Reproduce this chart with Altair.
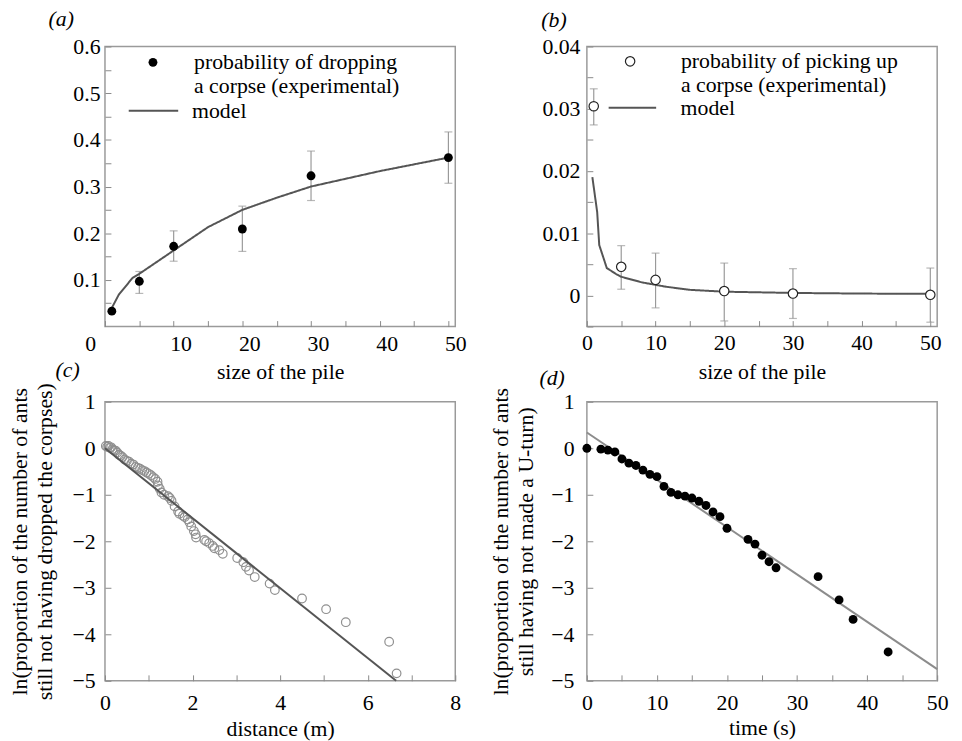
import altair as alt
import pandas as pd

FONT = "Liberation Serif"
FS = 22
ERR = "#9a9a9a"

# ---------------- (a) probability of dropping ----------------
pile_a = [1, 5, 10, 20, 30, 50]
drop_prob = [0.033, 0.097, 0.172, 0.209, 0.323, 0.362]
err_pile_a = [5, 10, 20, 30, 50]
drop_lo = [0.071, 0.140, 0.161, 0.270, 0.307]
drop_hi = [0.118, 0.205, 0.258, 0.376, 0.417]
model_x_a = [1, 2, 4, 5, 10, 15, 20, 25, 30, 40, 50]
model_y_a = [0.040, 0.068, 0.104, 0.113, 0.163, 0.213, 0.250, 0.276, 0.300, 0.333, 0.362]
label_drop = "probability of dropping a corpse (experimental)"

# ---------------- (b) probability of picking up ----------------
pile_b = [1, 5, 10, 20, 30, 50]
pick_prob = [0.0304, 0.0046, 0.0025, 0.0007, 0.0003, 0.0001]
pick_lo = [0.0274, 0.0010, -0.0020, -0.0041, -0.0037, -0.0043]
pick_hi = [0.0332, 0.0080, 0.0068, 0.0052, 0.0043, 0.0044]
model_x_b = [0.8, 1.5, 1.8, 2.9, 4.3, 5, 8, 11.5, 15, 20, 30, 40, 50]
model_y_b = [0.0190, 0.0134, 0.0081, 0.0044, 0.0034, 0.0030, 0.0021, 0.0014,
             0.0009, 0.0006, 0.0004, 0.0003, 0.00025]
label_pick = "probability of picking up a corpse (experimental)"

# ---------------- (c) distance ----------------
dist_c = [0.02, 0.05, 0.08, 0.11, 0.14, 0.17, 0.2, 0.24, 0.28, 0.32, 0.36, 0.4,
          0.45, 0.5, 0.55, 0.6, 0.65, 0.7, 0.75, 0.8, 0.85, 0.9, 0.95, 1.0, 1.05,
          1.1, 1.15, 1.2, 1.21, 1.25, 1.29, 1.35, 1.44, 1.48, 1.52, 1.59, 1.67,
          1.70, 1.78, 1.82, 1.89, 1.93, 1.97, 2.03, 2.07, 2.08, 2.27, 2.31, 2.38,
          2.46, 2.5, 2.61, 2.69, 3.02, 3.16, 3.22, 3.29, 3.42, 3.76, 3.88, 4.5,
          5.05, 5.5, 6.49, 6.66]
ln_c = [0.05, 0.03, 0.05, 0.01, 0.02, -0.02, -0.04, -0.05, -0.09, -0.14, -0.16,
        -0.19, -0.24, -0.27, -0.29, -0.33, -0.35, -0.40, -0.42, -0.44, -0.47,
        -0.49, -0.52, -0.55, -0.58, -0.62, -0.66, -0.72, -0.80, -0.87, -0.95,
        -1.00, -1.03, -1.07, -1.13, -1.25, -1.36, -1.41, -1.45, -1.48, -1.53,
        -1.59, -1.68, -1.78, -1.85, -1.92, -1.97, -2.00, -2.04, -2.10, -2.15,
        -2.19, -2.27, -2.36, -2.45, -2.55, -2.63, -2.77, -2.91, -3.05, -3.23,
        -3.46, -3.74, -4.16, -4.84]
line_x_c = [0, 6.65]
line_y_c = [0, -5]

# ---------------- (d) time ----------------
time_d = [0, 2, 3, 4, 5, 6, 7, 8, 9, 10, 11, 12, 13, 14, 15, 16, 17, 18, 19, 20,
          23, 24, 25, 26, 27, 33, 36, 38, 43]
ln_d = [0.0, -0.02, -0.04, -0.08, -0.23, -0.32, -0.37, -0.47, -0.56, -0.61, -0.82,
        -0.95, -1.0, -1.03, -1.07, -1.14, -1.23, -1.37, -1.47, -1.72, -1.96, -2.06,
        -2.30, -2.44, -2.57, -2.76, -3.26, -3.68, -4.38]
line_x_d = [0, 50]
line_y_d = [0.34, -4.75]

W, H_TOP, H_BOT = 354, 283, 282


def make_axis(values, expr, title, lp, ext, tp=0, label_offset=None, line_height=None):
    kw = dict(values=values, labelExpr=expr, tickSize=6, offset=-6, domain=False,
              grid=False, labelPadding=lp, labelFlush=False, labelOverlap=False,
              tickColor="#8a8a8a", tickWidth=1, labelFont=FONT, labelFontSize=FS,
              labelColor="black", minExtent=ext, maxExtent=ext, title=title)
    if title is not None:
        kw.update(titleFont=FONT, titleFontSize=FS, titleFontWeight="normal",
                  titleColor="black", titlePadding=tp)
    if label_offset is not None:
        kw["labelOffset"] = label_offset
    if line_height is not None:
        kw["titleLineHeight"] = line_height
    return alt.Axis(**kw)


def panel_title(text, dx, offset):
    return alt.TitleParams(text=text, anchor="start", frame="group", dx=dx,
                           offset=offset, baseline="alphabetic", font=FONT,
                           fontSize=FS, fontWeight="normal", fontStyle="italic",
                           color="black")


def legend_kw(x, y, lab_off, **extra):
    kw = dict(title=None, orient="none", legendX=x, legendY=y, padding=0,
              labelFont=FONT, labelFontSize=FS, labelColor="black",
              labelLimit=500, labelOffset=lab_off)
    kw.update(extra)
    return alt.Legend(**kw)


# ---------- panel a ----------
x5 = [v * 5 for v in range(11)]
xaxis_a = make_axis(x5, "datum.value % 10 === 0 ? datum.label : ''",
                    "size of the pile", 7, 36, 5,
                    label_offset={"condition": {"test": "datum.value === 0", "value": -15},
                                  "value": 7})
ya_vals = [round(0.05 * i, 2) for i in range(1, 13)]
yaxis_a = make_axis(ya_vals,
                    "abs(datum.value*10 - round(datum.value*10)) < 0.001 ? format(datum.value, '.1f') : ''",
                    None, 5, 40)
xs_a = alt.Scale(domain=[0, 51], nice=False, zero=False)
ys_a = alt.Scale(domain=[0, 0.6], nice=False, zero=False)
Xa = alt.X("size:Q", scale=xs_a, axis=xaxis_a)

df_a_pts = pd.DataFrame({"size": pile_a, "p": drop_prob, "pts_a": [label_drop] * len(pile_a)})
df_a_err = pd.DataFrame({"size": err_pile_a, "lo": drop_lo, "hi": drop_hi})
df_a_mod = pd.DataFrame({"size": model_x_a, "p": model_y_a, "line_a": ["model"] * len(model_x_a)})

err_a = alt.Chart(df_a_err).mark_rule(color=ERR, strokeWidth=1.2).encode(
    x=Xa, y=alt.Y("lo:Q", scale=ys_a, axis=yaxis_a), y2="hi:Q")
caplo_a = alt.Chart(df_a_err).mark_tick(orient="horizontal", size=8, thickness=1.2, color=ERR).encode(
    x=Xa, y=alt.Y("lo:Q", scale=ys_a, axis=yaxis_a))
caphi_a = alt.Chart(df_a_err).mark_tick(orient="horizontal", size=8, thickness=1.2, color=ERR).encode(
    x=Xa, y=alt.Y("hi:Q", scale=ys_a, axis=yaxis_a))
line_a = alt.Chart(df_a_mod).mark_line(color="#555555", strokeWidth=2).encode(
    x=Xa, y=alt.Y("p:Q", scale=ys_a, axis=yaxis_a),
    strokeDash=alt.StrokeDash("line_a:N", scale=alt.Scale(domain=["model"], range=[[1, 0]]),
                              legend=legend_kw(23, 39, 13, symbolType="stroke", symbolSize=2500,
                                               symbolStrokeColor="#555555", symbolStrokeWidth=2)))
pts_a = alt.Chart(df_a_pts).mark_point(filled=True, size=80, color="black", opacity=1).encode(
    x=Xa, y=alt.Y("p:Q", scale=ys_a, axis=yaxis_a),
    shape=alt.Shape("pts_a:N", scale=alt.Scale(domain=[label_drop], range=["circle"]),
                    legend=legend_kw(37.5, 5, 30.5,
                                     labelExpr="['probability of dropping', 'a corpse (experimental)']",
                                     symbolSize=80, symbolFillColor="black",
                                     symbolStrokeColor="black", symbolStrokeWidth=0)))
panel_a = alt.layer(err_a, caplo_a, caphi_a, line_a, pts_a).properties(
    width=W, height=H_TOP, title=panel_title("(a)", -57, -12))

# ---------- panel b ----------
xaxis_b = make_axis(x5, "datum.value % 10 === 0 ? datum.label : ''",
                    "size of the pile", 6, 36, 6)
yb_vals = [round(-0.005 + 0.005 * i, 3) for i in range(10)]
yaxis_b = make_axis(yb_vals,
                    "abs(datum.value*100 - round(datum.value*100)) < 0.001 ? (abs(datum.value) < 0.0001 ? '0' : format(datum.value, '.2f')) : ''",
                    None, 7, 40)
xs_b = alt.Scale(domain=[0, 51], nice=False, zero=False)
ys_b = alt.Scale(domain=[-0.005, 0.04], nice=False, zero=False)
Xb = alt.X("size:Q", scale=xs_b, axis=xaxis_b)

df_b_pts = pd.DataFrame({"size": pile_b, "p": pick_prob, "pts_b": [label_pick] * len(pile_b)})
df_b_err = pd.DataFrame({"size": pile_b, "lo": pick_lo, "hi": pick_hi})
df_b_mod = pd.DataFrame({"size": model_x_b, "p": model_y_b, "line_b": ["model"] * len(model_x_b)})

err_b = alt.Chart(df_b_err).mark_rule(color=ERR, strokeWidth=1.2).encode(
    x=Xb, y=alt.Y("lo:Q", scale=ys_b, axis=yaxis_b), y2="hi:Q")
caplo_b = alt.Chart(df_b_err).mark_tick(orient="horizontal", size=8, thickness=1.2, color=ERR).encode(
    x=Xb, y=alt.Y("lo:Q", scale=ys_b, axis=yaxis_b))
caphi_b = alt.Chart(df_b_err).mark_tick(orient="horizontal", size=8, thickness=1.2, color=ERR).encode(
    x=Xb, y=alt.Y("hi:Q", scale=ys_b, axis=yaxis_b))
line_b = alt.Chart(df_b_mod).mark_line(color="#555555", strokeWidth=2).encode(
    x=Xb, y=alt.Y("p:Q", scale=ys_b, axis=yaxis_b),
    strokeDash=alt.StrokeDash("line_b:N", scale=alt.Scale(domain=["model"], range=[[1, 0]]),
                              legend=legend_kw(21, 37, 23.7, symbolType="stroke", symbolSize=2304,
                                               symbolStrokeColor="#555555", symbolStrokeWidth=2)))
pts_b = alt.Chart(df_b_pts).mark_point(filled=False, size=90, fill="white", fillOpacity=1,
                                       strokeWidth=1.2, opacity=1, shape="circle").encode(
    x=Xb, y=alt.Y("p:Q", scale=ys_b, axis=yaxis_b),
    stroke=alt.Stroke("pts_b:N", scale=alt.Scale(domain=[label_pick], range=["#222222"]),
                      legend=legend_kw(32.7, 4, 40.4,
                                       labelExpr="['probability of picking up', 'a corpse (experimental)']",
                                       symbolType="circle", symbolSize=90, symbolOpacity=1,
                                       symbolStrokeWidth=1.2)))
panel_b = alt.layer(err_b, caplo_b, caphi_b, line_b, pts_b).properties(
    width=W, height=H_TOP, title=panel_title("(b)", -46, -13))

# ---------- panel c ----------
xaxis_c = make_axis(list(range(0, 9)), "datum.value % 2 === 0 ? datum.label : ''",
                    "distance (m)", 12, 36, 8)
yaxis_c = make_axis(list(range(-5, 2)), "datum.label",
                    ["ln(proportion of the number of ants", "still not having dropped the corpses)"],
                    10, 40, 15, line_height=25)
xs_c = alt.Scale(domain=[0, 8], nice=False, zero=False)
ys_c = alt.Scale(domain=[-5, 1], nice=False, zero=False)
df_c = pd.DataFrame({"d": dist_c, "v": ln_c})
df_c_line = pd.DataFrame({"d": line_x_c, "v": line_y_c})
pts_c = alt.Chart(df_c).mark_point(shape="circle", filled=False, color="#8f8f8f",
                                   strokeWidth=1.2, size=76, opacity=1).encode(
    x=alt.X("d:Q", scale=xs_c, axis=xaxis_c), y=alt.Y("v:Q", scale=ys_c, axis=yaxis_c))
line_c = alt.Chart(df_c_line).mark_line(color="#555555", strokeWidth=2).encode(
    x=alt.X("d:Q", scale=xs_c, axis=xaxis_c), y=alt.Y("v:Q", scale=ys_c, axis=yaxis_c))
panel_c = alt.layer(pts_c, line_c).properties(
    width=W, height=H_BOT, title=panel_title("(c)", -50, -16))

# ---------- panel d ----------
xaxis_d = make_axis(x5, "datum.value % 10 === 0 ? datum.label : ''", "time (s)", 12, 36, 7)
yaxis_d = make_axis(list(range(-5, 2)), "datum.label",
                    ["ln(proportion of the number of ants", "still having not made a U-turn)"],
                    13, 40, 16, line_height=25)
xs_d = alt.Scale(domain=[0, 50], nice=False, zero=False)
ys_d = alt.Scale(domain=[-5, 1], nice=False, zero=False)
df_d = pd.DataFrame({"t": time_d, "v": ln_d})
df_d_line = pd.DataFrame({"t": line_x_d, "v": line_y_d})
line_d = alt.Chart(df_d_line).mark_line(color="#8c8c8c", strokeWidth=2).encode(
    x=alt.X("t:Q", scale=xs_d, axis=xaxis_d), y=alt.Y("v:Q", scale=ys_d, axis=yaxis_d))
pts_d = alt.Chart(df_d).mark_point(filled=True, color="black", size=80, opacity=1).encode(
    x=alt.X("t:Q", scale=xs_d, axis=xaxis_d), y=alt.Y("v:Q", scale=ys_d, axis=yaxis_d))
panel_d = alt.layer(line_d, pts_d).properties(
    width=W, height=H_BOT, title=panel_title("(d)", -48, -20))

chart = alt.concat(panel_a, panel_b, panel_c, panel_d, columns=2,
                   spacing={"row": 76, "column": 133}, bounds="flush").resolve_scale(
    shape="independent", strokeDash="independent", stroke="independent").resolve_legend(
    shape="independent", strokeDash="independent", stroke="independent").properties(
    padding={"left": 0, "top": -5, "right": 5, "bottom": 5},
    background="white",
).configure(font=FONT).configure_view(stroke="#9a9a9a", strokeWidth=1.5)

chart.save("out.html", embed_options={"renderer": "svg", "actions": False})
